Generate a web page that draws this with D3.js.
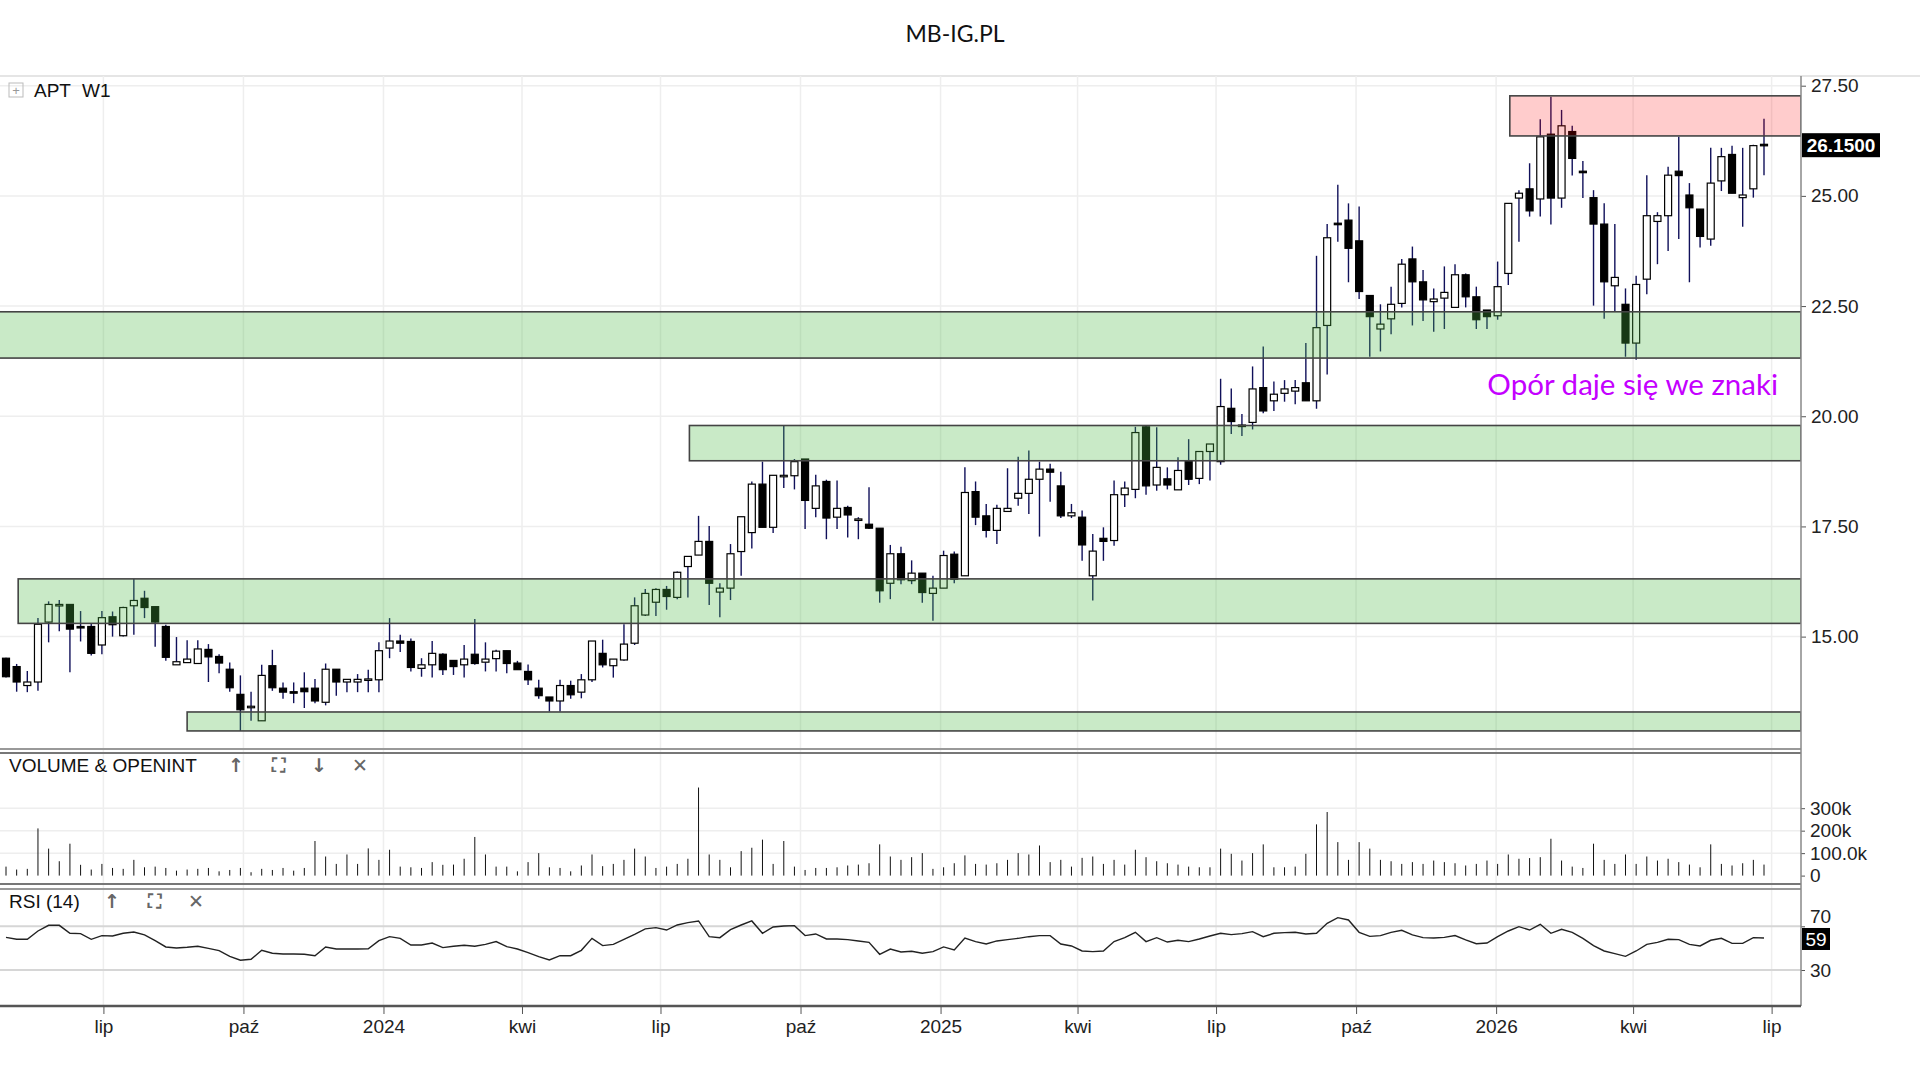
<!DOCTYPE html>
<html>
<head>
<meta charset="utf-8">
<script src="https://cdn.jsdelivr.net/npm/d3@7"></script>
<style>
  html, body { margin: 0; padding: 0; background: #fff; }
  svg { display: block; }
  text { font-family: "Liberation Sans", Arial, sans-serif; }
</style>
</head>
<body>
<div id="chart"></div>
<script>
// weekly candles, one per Friday
const FIRST_WEEK = new Date(2023, 3, 28);
const LAST_WEEK = new Date(2026, 5, 26);

const OPEN = [
  14.51,14.32,13.89,13.97,15.33,15.72,15.73,15.23,15.23,14.81,
  15.45,15.02,15.70,15.87,15.68,15.23,14.36,14.41,14.39,14.71,
  14.55,14.26,13.69,13.41,13.09,14.34,13.83,13.75,13.83,13.83,
  13.51,14.26,13.97,13.97,14.03,14.02,14.74,14.90,14.89,14.28,
  14.36,14.60,14.46,14.36,14.60,14.42,14.50,14.68,14.40,14.21,
  13.83,13.63,13.54,13.89,13.74,14.02,14.62,14.34,14.47,14.85,
  15.49,15.78,16.07,15.89,16.59,16.85,17.16,16.01,16.10,16.93,
  17.36,18.46,17.48,18.65,18.65,19.03,17.91,18.52,17.71,17.93,
  17.66,17.55,17.46,16.21,16.88,16.27,16.44,15.98,16.10,16.87,
  16.38,18.29,17.74,17.41,17.84,18.14,18.25,18.57,18.80,18.42,
  17.74,17.71,16.38,17.23,17.18,18.22,18.34,19.76,18.44,18.58,
  18.33,18.99,18.59,19.20,18.97,20.18,19.80,19.86,20.65,20.35,
  20.52,20.57,20.76,20.35,22.06,24.38,24.45,23.98,22.74,21.98,
  22.21,22.56,23.57,23.05,22.60,22.68,22.47,23.21,22.71,22.41,
  22.28,23.24,24.95,25.16,24.93,26.40,24.95,26.46,25.56,24.96,
  24.36,22.96,22.54,21.66,23.11,24.42,24.55,25.56,25.02,24.70,
  24.02,25.34,25.94,24.96,25.16,26.17
];
const HIGH = [
  14.52,14.38,14.22,15.42,15.80,15.83,15.74,15.58,15.30,15.58,
  15.57,15.68,16.31,16.04,15.68,15.27,14.99,14.92,14.92,14.83,
  14.60,14.41,14.12,13.75,14.36,14.70,13.96,13.96,14.19,14.04,
  14.39,14.26,14.03,14.15,14.25,14.87,15.42,15.04,14.96,14.51,
  14.90,14.62,14.47,14.81,15.40,14.87,14.70,14.68,14.45,14.37,
  14.02,13.63,14.02,14.00,14.15,14.90,14.93,14.49,15.28,15.89,
  16.08,16.10,16.15,16.48,16.82,17.74,17.51,16.21,17.10,17.72,
  18.52,18.97,18.66,19.79,19.03,19.03,18.67,18.56,18.54,17.97,
  17.71,18.39,17.46,17.08,17.04,16.73,16.44,16.38,16.95,16.93,
  18.84,18.52,18.01,17.99,18.82,19.08,19.22,18.97,18.92,18.74,
  18.01,17.86,17.33,17.48,18.54,18.52,19.76,19.79,19.75,18.84,
  19.07,19.48,19.20,19.37,20.85,20.63,20.05,21.13,21.58,20.79,
  20.82,20.82,21.66,23.64,24.36,25.25,24.83,24.76,22.74,22.54,
  22.94,23.57,23.85,23.32,22.90,23.40,23.45,23.24,22.94,22.41,
  23.51,24.83,25.13,25.74,26.74,27.25,26.95,26.59,25.79,25.13,
  24.83,24.36,22.90,23.19,25.47,24.63,25.66,26.34,25.29,24.70,
  26.09,26.09,26.14,26.09,26.16,26.75
];
const LOW = [
  14.07,13.75,13.74,13.77,14.87,15.12,14.19,14.89,14.57,14.60,
  15.00,15.00,15.04,15.42,14.77,14.45,14.36,14.40,14.39,13.97,
  14.17,13.75,12.86,13.09,13.09,13.77,13.59,13.49,13.38,13.49,
  13.44,13.66,13.74,13.74,13.74,13.74,14.51,14.65,14.21,14.09,
  14.07,14.13,14.13,14.07,14.36,14.21,14.21,14.17,14.25,13.90,
  13.59,13.30,13.30,13.59,13.60,13.97,14.30,14.07,14.45,14.81,
  15.47,15.47,15.61,15.85,15.89,16.85,15.72,15.44,15.83,16.38,
  17.00,17.48,17.35,18.37,18.34,17.44,17.71,17.21,17.44,17.25,
  17.21,17.44,15.77,15.85,16.19,16.19,15.77,15.36,16.10,16.21,
  16.38,17.53,17.25,17.10,17.84,17.97,17.78,17.27,18.06,17.69,
  17.69,16.72,15.82,16.72,17.06,17.94,18.14,18.22,18.31,18.34,
  18.33,18.44,18.46,18.54,18.90,19.60,19.55,19.70,20.07,20.12,
  20.33,20.27,20.35,20.17,20.95,23.96,23.04,22.66,21.35,21.47,
  21.86,22.47,22.06,22.16,21.92,21.98,22.47,22.47,21.98,21.98,
  22.19,22.98,23.96,24.53,24.53,24.35,24.73,25.46,24.95,22.51,
  22.21,22.39,21.35,21.28,22.77,23.45,23.75,24.02,23.04,23.83,
  23.87,25.11,25.06,24.30,24.96,25.47
];
const CLOSE = [
  14.09,13.97,13.97,15.28,15.73,15.73,15.17,15.22,14.62,15.43,
  15.27,15.66,15.82,15.66,15.33,14.53,14.43,14.49,14.72,14.54,
  14.40,13.84,13.34,13.42,14.12,13.84,13.74,13.74,13.75,13.54,
  14.26,13.97,14.03,14.03,14.04,14.68,14.90,14.85,14.30,14.36,
  14.62,14.25,14.32,14.49,14.39,14.49,14.67,14.39,14.25,14.02,
  13.66,13.54,13.89,13.68,14.02,14.90,14.36,14.49,14.83,15.70,
  15.98,16.07,15.91,16.46,16.82,17.16,16.21,16.10,16.88,17.72,
  18.46,17.48,18.66,18.66,18.97,18.09,18.42,17.69,17.91,17.76,
  17.67,17.46,16.04,16.88,16.29,16.44,16.00,16.10,16.84,16.30,
  18.27,17.71,17.41,17.91,17.91,18.25,18.57,18.80,18.73,17.74,
  17.81,17.08,16.94,17.16,18.22,18.37,19.63,18.42,18.84,18.44,
  18.77,18.57,19.20,19.37,20.22,19.88,19.78,20.62,20.12,20.50,
  20.62,20.65,20.35,22.01,24.05,24.37,23.81,22.83,22.26,22.09,
  22.54,23.45,23.05,22.64,22.66,22.81,23.21,22.71,22.19,22.26,
  22.94,24.83,25.06,24.66,26.34,24.95,26.59,25.85,25.55,24.36,
  23.05,23.15,21.66,22.99,24.55,24.55,25.47,25.46,24.73,24.08,
  25.29,25.89,25.06,25.02,26.14,26.15
];
// volume in thousands
const VOLUME_K = [
  40,27,30,210,120,64,142,48,27,52,
  34,30,70,37,40,34,22,27,30,34,
  19,25,34,15,30,25,34,22,34,154,
  85,52,94,52,121,70,115,40,37,34,
  60,48,49,75,172,94,40,40,19,60,
  100,37,34,19,45,94,42,52,70,120,
  85,34,40,52,75,392,94,70,37,109,
  124,160,52,154,40,25,34,34,37,45,
  49,55,139,85,70,82,100,30,37,55,
  90,52,49,55,70,100,94,134,60,70,
  40,79,85,52,70,49,115,82,64,55,
  49,40,37,37,120,97,67,100,139,37,
  37,40,97,228,283,149,70,149,120,70,
  64,52,60,52,67,60,55,45,52,67,
  52,94,75,78,82,164,67,40,34,142,
  70,52,94,52,85,67,75,60,49,37,
  139,52,45,55,70,49
];
const RSI = [
  59.9,58.1,58.1,65.7,70.9,70.9,63.6,63.3,58.1,61.5,
  61.1,63.6,64.8,62.1,56.9,51.1,50.2,50.8,51.7,49.8,
  47.7,42.5,38.9,39.8,48.0,45.3,44.7,44.7,44.4,43.1,
  51.1,49.2,49.2,49.2,49.5,56.9,60.5,59.0,52.9,52.9,
  54.7,50.5,51.7,52.6,51.7,53.5,56.0,51.4,49.2,45.9,
  42.2,39.2,43.1,43.1,48.0,59.0,52.3,53.5,58.1,62.7,
  67.6,68.8,66.6,71.2,73.4,74.9,60.5,59.6,66.9,71.2,
  74.9,63.6,69.4,70.3,70.6,61.5,63.0,58.4,58.4,57.8,
  56.6,55.3,44.4,49.2,46.5,47.1,45.3,46.8,51.1,48.3,
  59.3,56.0,53.8,56.6,57.8,59.0,60.5,61.5,61.5,53.8,
  52.0,47.4,46.8,47.4,56.0,59.6,64.5,56.0,59.6,55.6,
  57.2,56.0,58.4,61.1,63.6,62.4,63.3,65.1,60.5,63.6,
  64.2,64.5,63.0,63.6,72.7,77.9,75.8,64.5,60.8,61.5,
  64.5,66.3,62.1,59.6,59.3,59.9,61.5,57.5,54.1,54.7,
  60.5,65.7,69.7,66.6,71.8,63.6,67.3,64.5,59.0,52.3,
  47.4,45.0,42.5,47.4,53.5,55.3,58.1,57.8,53.5,52.0,
  57.2,59.0,54.4,54.4,59.6,59.3
];

// support / resistance zones
const ZONE_START = [new Date(2023, 0, 1), new Date(2024, 6, 20), new Date(2023, 4, 6), new Date(2023, 7, 25), new Date(2026, 0, 10)];
const ZONE_LOW = [21.32, 18.99, 15.30, 12.86, 26.36];
const ZONE_HIGH = [22.37, 19.79, 16.31, 13.29, 27.27];
const ZONE_KIND = ["support", "support", "support", "support", "resistance"];

const PRICE_TICKS = [15, 17.5, 20, 22.5, 25, 27.5];
const VOL_TICKS = [0, 100, 200, 300];
const VOL_TICK_LABELS = ["0", "100.0k", "200k", "300k"];
const RSI_TICKS = [30, 70];
const TICK_LABELS = ["lip", "paź", "2024", "kwi", "lip", "paź", "2025", "kwi", "lip", "paź", "2026", "kwi", "lip"];

const LAST_PRICE = "26.1500";
const LAST_RSI = "59";

const width = 1920, height = 1080;
const plotRight = 1801;
const mainTop = 76, mainBottom = 749;
const volTop = 753, volBottom = 884;
const rsiTop = 889, rsiBottom = 1006;

const weeks = d3.timeFriday.range(FIRST_WEEK, d3.timeDay.offset(LAST_WEEK, 1));
const candles = OPEN.map((o, i) => ({
  date: weeks[i], o: o, h: HIGH[i], l: LOW[i], c: CLOSE[i], v: VOLUME_K[i], rsi: RSI[i]
}));

const svg = d3.select("#chart").append("svg")
  .attr("width", width)
  .attr("height", height);

const x = d3.scaleTime().domain([FIRST_WEEK, LAST_WEEK]).range([6, 1764]);
const y = d3.scaleLinear().domain([12.45, 27.72]).range([mainBottom, mainTop]);
const yVol = d3.scaleLinear().domain([0, 300]).range([875.6, 808.2]);
const yRsi = d3.scaleLinear().domain([30, 70]).range([970, 926.3]);

const tickDates = d3.timeMonth.every(3).range(new Date(2023, 6, 1), new Date(2026, 6, 2));

const defs = svg.append("defs");
[["clipMain", mainTop, mainBottom], ["clipVol", volTop, volBottom], ["clipRsi", rsiTop, rsiBottom]]
  .forEach(([id, t, b]) => {
    defs.append("clipPath").attr("id", id)
      .append("rect").attr("x", 0).attr("y", t).attr("width", plotRight).attr("height", b - t);
  });

// title
svg.append("text")
  .attr("x", 955).attr("y", 42)
  .attr("text-anchor", "middle")
  .style("font-family", "Lato, 'Open Sans', sans-serif")
  .style("font-size", "23px")
  .attr("fill", "#111")
  .text("MB-IG.PL");

svg.append("line").attr("x1", 0).attr("x2", width).attr("y1", mainTop).attr("y2", mainTop)
  .attr("stroke", "#ddd").attr("stroke-width", 1.5);

// vertical grid through every panel
svg.append("g").selectAll("line")
  .data(tickDates)
  .enter().append("line")
  .attr("x1", d => x(d)).attr("x2", d => x(d))
  .attr("y1", mainTop).attr("y2", rsiBottom)
  .attr("stroke", "#eeeeee").attr("stroke-width", 1.5);

// horizontal grid main
svg.append("g").selectAll("line")
  .data(PRICE_TICKS)
  .enter().append("line")
  .attr("x1", 0).attr("x2", plotRight)
  .attr("y1", d => y(d)).attr("y2", d => y(d))
  .attr("stroke", "#eeeeee").attr("stroke-width", 1.5);

// candles
const gMain = svg.append("g").attr("clip-path", "url(#clipMain)");

gMain.selectAll(".wick")
  .data(candles)
  .enter().append("line")
  .attr("class", "wick")
  .attr("x1", d => x(d.date)).attr("x2", d => x(d.date))
  .attr("y1", d => y(d.h)).attr("y2", d => y(d.l))
  .attr("stroke", "#10105a").attr("stroke-width", 1.4);

gMain.selectAll(".body")
  .data(candles)
  .enter().append("rect")
  .attr("class", "body")
  .attr("x", d => x(d.date) - 3.5)
  .attr("width", 7)
  .attr("y", d => y(Math.max(d.o, d.c)))
  .attr("height", d => Math.max(1.5, Math.abs(y(d.o) - y(d.c))))
  .attr("fill", d => d.c >= d.o ? "#fff" : "#000")
  .attr("stroke", "#000").attr("stroke-width", 1.2);

// zones drawn over the candles, see-through
const zones = ZONE_START.map((s, i) => ({start: s, lo: ZONE_LOW[i], hi: ZONE_HIGH[i], kind: ZONE_KIND[i]}));
gMain.selectAll(".zone")
  .data(zones)
  .enter().append("rect")
  .attr("class", "zone")
  .attr("x", d => x(d.start))
  .attr("width", d => plotRight - x(d.start))
  .attr("y", d => y(d.hi))
  .attr("height", d => y(d.lo) - y(d.hi))
  .attr("fill", d => d.kind === "resistance" ? "rgba(255,0,0,0.2)" : "rgba(76,187,71,0.3)")
  .attr("stroke", "#444").attr("stroke-width", 1.6);

// annotation
svg.append("text")
  .attr("x", 1778).attr("y", 395)
  .attr("text-anchor", "end")
  .style("font-family", "Lato, 'Open Sans', sans-serif")
  .style("font-size", "29.5px")
  .attr("fill", "#c400ff")
  .text("Opór daje się we znaki");

// legend top-left
const leg = svg.append("g");
leg.append("rect").attr("x", 9).attr("y", 83).attr("width", 14).attr("height", 14)
  .attr("fill", "none").attr("stroke", "#bbb");
leg.append("text").attr("x", 16).attr("y", 95).attr("text-anchor", "middle")
  .style("font-size", "13px").attr("fill", "#999").text("+");
leg.append("text").attr("x", 34).attr("y", 97).style("font-size", "19px").attr("fill", "#111").text("APT");
leg.append("text").attr("x", 82).attr("y", 97).style("font-size", "19px").attr("fill", "#111").text("W1");

// price axis
const priceAxis = svg.append("g")
  .attr("transform", `translate(${plotRight},0)`)
  .call(d3.axisRight(y).tickValues(PRICE_TICKS).tickFormat(d3.format(".2f")).tickSize(5).tickPadding(5));
priceAxis.select(".domain").remove();
priceAxis.selectAll("line").attr("stroke", "#555");
priceAxis.selectAll("text").style("font-size", "19px").attr("fill", "#222")
  .style("font-family", "'Liberation Sans', Arial, sans-serif");

svg.append("rect").attr("x", plotRight + 1).attr("y", y(26.15) - 12).attr("width", 78).attr("height", 24)
  .attr("fill", "#000");
svg.append("text").attr("x", plotRight + 40).attr("y", y(26.15) + 7).attr("text-anchor", "middle")
  .style("font-size", "19px").style("font-weight", "bold").attr("fill", "#fff").text(LAST_PRICE);

// panel separators
[[mainBottom, "#999"], [volTop, "#777"], [volBottom, "#777"], [rsiTop, "#999"]].forEach(([yy, col]) => {
  svg.append("line").attr("x1", 0).attr("x2", plotRight).attr("y1", yy).attr("y2", yy)
    .attr("stroke", col).attr("stroke-width", 2);
});

// volume
svg.append("g").selectAll("line")
  .data(VOL_TICKS.slice(1))
  .enter().append("line")
  .attr("x1", 0).attr("x2", plotRight)
  .attr("y1", d => yVol(d)).attr("y2", d => yVol(d))
  .attr("stroke", "#eeeeee").attr("stroke-width", 1.5);

svg.append("g").attr("clip-path", "url(#clipVol)")
  .selectAll("line")
  .data(candles)
  .enter().append("line")
  .attr("x1", d => x(d.date)).attr("x2", d => x(d.date))
  .attr("y1", yVol(0)).attr("y2", d => yVol(d.v))
  .attr("stroke", "#111").attr("stroke-width", 1);

svg.append("text").attr("x", 9).attr("y", 772).style("font-size", "19px").attr("fill", "#111")
  .text("VOLUME & OPENINT");
const panelIcons = (labels, xs, yy) => {
  labels.forEach((t, i) => {
    svg.append("text").attr("x", xs[i]).attr("y", yy).attr("text-anchor", "middle")
      .style("font-family", "'DejaVu Sans', sans-serif")
      .style("font-size", "19px").style("font-weight", "bold").attr("fill", "#666").text(t);
  });
};
panelIcons(["↑", "⛶", "↓", "✕"], [236, 278, 319, 360], 772);

const volAxis = svg.append("g")
  .attr("transform", `translate(${plotRight},0)`)
  .call(d3.axisRight(yVol).tickValues(VOL_TICKS).tickFormat((d, i) => VOL_TICK_LABELS[i]).tickSize(4).tickPadding(5));
volAxis.select(".domain").remove();
volAxis.selectAll("line").attr("stroke", "#555");
volAxis.selectAll("text").style("font-size", "19px").attr("fill", "#222")
  .style("font-family", "'Liberation Sans', Arial, sans-serif");

// RSI
svg.append("g").selectAll("line")
  .data(RSI_TICKS)
  .enter().append("line")
  .attr("x1", 0).attr("x2", plotRight)
  .attr("y1", d => yRsi(d)).attr("y2", d => yRsi(d))
  .attr("stroke", "#d6d6d6").attr("stroke-width", 2);

svg.append("g").attr("clip-path", "url(#clipRsi)")
  .append("path")
  .datum(candles)
  .attr("fill", "none")
  .attr("stroke", "#222").attr("stroke-width", 1.4)
  .attr("d", d3.line().x(d => x(d.date)).y(d => yRsi(d.rsi)));

svg.append("text").attr("x", 9).attr("y", 908).style("font-size", "19px").attr("fill", "#111")
  .text("RSI (14)");
panelIcons(["↑", "⛶", "✕"], [112, 154, 196], 908);

const rsiAxis = svg.append("g")
  .attr("transform", `translate(${plotRight},0)`)
  .call(d3.axisRight(yRsi).tickValues(RSI_TICKS).tickFormat(d3.format("d")).tickSize(4).tickPadding(5));
rsiAxis.select(".domain").remove();
rsiAxis.selectAll("line").attr("stroke", "#555");
rsiAxis.selectAll("text").style("font-size", "19px").attr("fill", "#222")
  .style("font-family", "'Liberation Sans', Arial, sans-serif");
// the 70 label sits just above the last-value box
rsiAxis.selectAll(".tick text").filter(d => d === 70).attr("dy", "-0.2em");

const rsiBoxY = yRsi(59.3);
svg.append("rect").attr("x", plotRight + 1).attr("y", rsiBoxY - 10).attr("width", 28).attr("height", 22)
  .attr("fill", "#000");
svg.append("text").attr("x", plotRight + 15).attr("y", rsiBoxY + 8).attr("text-anchor", "middle")
  .style("font-size", "19px").attr("fill", "#fff").text(LAST_RSI);

// right border of plot
svg.append("line").attr("x1", plotRight).attr("x2", plotRight).attr("y1", mainTop).attr("y2", rsiBottom)
  .attr("stroke", "#888").attr("stroke-width", 1.5);

// time axis
const timeAxis = svg.append("g")
  .attr("transform", `translate(0,${rsiBottom})`)
  .call(d3.axisBottom(x).tickValues(tickDates).tickFormat((d, i) => TICK_LABELS[i]).tickSize(8).tickPadding(6));
timeAxis.select(".domain").attr("d", `M0,0H${plotRight}`).attr("stroke", "#555").attr("stroke-width", 2.5);
timeAxis.selectAll("line").attr("stroke", "#555");
timeAxis.selectAll("text").style("font-size", "19px").attr("fill", "#222")
  .style("font-family", "'Liberation Sans', Arial, sans-serif");
</script>
</body>
</html>
